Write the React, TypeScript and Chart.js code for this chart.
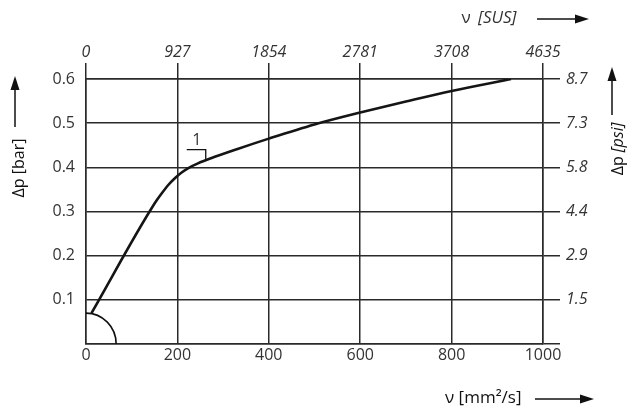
import React, { useEffect, useRef } from "react";
import { Chart, registerables } from "chart.js";

Chart.register(...registerables);

// Curve data: viscosity ν [mm²/s] vs pressure drop Δp [bar]
const NU_MM2S = [12, 150, 165, 180, 195, 210, 225, 245, 272, 330, 400, 500, 600, 700, 800, 930];
const DP_BAR = [0.07, 0.318, 0.34, 0.36, 0.376, 0.389, 0.399, 0.409, 0.42, 0.441, 0.465, 0.497, 0.524, 0.549, 0.573, 0.6];

// Axis tick labels
const MM2S_LABELS = ["0", "200", "400", "600", "800", "1000"];
const SUS_LABELS = ["0", "927", "1854", "2781", "3708", "4635"];
const BAR_LABELS = ["", "0.1", "0.2", "0.3", "0.4", "0.5", "0.6"];
const PSI_LABELS = ["", "1.5", "2.9", "4.4", "5.8", "7.3", "8.7"];

// Annotation "1" anchor (data coordinates) and corner arc radii (data units)
const MARK1 = { x: 262, yTop: 0.44, yBottom: 0.416, label: "1" };
const ARC_R = { x: 66, y: 0.07 };

const FONT = "'Open Sans', 'DejaVu Sans', sans-serif";
const TXT = "#333333";
const LINE = "#2a2a2a";

function arrow(ctx: CanvasRenderingContext2D, x1: number, y1: number, x2: number, y2: number) {
  const head = 14;
  const half = 4.5;
  const ang = Math.atan2(y2 - y1, x2 - x1);
  const bx = x2 - head * Math.cos(ang);
  const by = y2 - head * Math.sin(ang);
  ctx.beginPath();
  ctx.moveTo(x1, y1);
  ctx.lineTo(bx, by);
  ctx.strokeStyle = "#111";
  ctx.lineWidth = 1.5;
  ctx.stroke();
  ctx.beginPath();
  ctx.moveTo(x2, y2);
  ctx.lineTo(bx + half * Math.sin(ang), by - half * Math.cos(ang));
  ctx.lineTo(bx - half * Math.sin(ang), by + half * Math.cos(ang));
  ctx.closePath();
  ctx.fillStyle = "#111";
  ctx.fill();
}

const decor = {
  id: "decor",
  afterDatasetsDraw(chart: any) {
    const ctx: CanvasRenderingContext2D = chart.ctx;
    const xs = chart.scales.x;
    const ys = chart.scales.y;
    ctx.save();

    // quarter arc at origin
    const ox = xs.getPixelForValue(0);
    const oy = ys.getPixelForValue(0);
    const rx = xs.getPixelForValue(ARC_R.x) - ox;
    const ry = oy - ys.getPixelForValue(ARC_R.y);
    ctx.beginPath();
    ctx.ellipse(ox, oy, rx, ry, 0, -Math.PI / 2, 0);
    ctx.strokeStyle = "#111";
    ctx.lineWidth = 1.6;
    ctx.stroke();

    // annotation "1"
    const mx = xs.getPixelForValue(MARK1.x);
    const my1 = ys.getPixelForValue(MARK1.yTop);
    const my2 = ys.getPixelForValue(MARK1.yBottom);
    ctx.beginPath();
    ctx.moveTo(mx - 19, my1);
    ctx.lineTo(mx, my1);
    ctx.lineTo(mx, my2);
    ctx.lineWidth = 1.3;
    ctx.stroke();
    ctx.fillStyle = TXT;
    ctx.font = `16px ${FONT}`;
    ctx.textAlign = "center";
    ctx.textBaseline = "bottom";
    ctx.fillText(MARK1.label, mx - 9, my1 - 1);

    // top title
    ctx.textBaseline = "middle";
    ctx.textAlign = "center";
    ctx.font = `17px ${FONT}`;
    ctx.fillText("ν", 466, 18);
    ctx.textAlign = "left";
    ctx.font = `italic 17px ${FONT}`;
    ctx.fillText("[SUS]", 478, 18);
    arrow(ctx, 537, 19, 589, 19);

    // bottom title
    ctx.font = `17px ${FONT}`;
    ctx.fillText("ν [mm²/s]", 445, 398);
    arrow(ctx, 535, 399, 594, 399);

    // left title
    ctx.save();
    ctx.translate(19, 168);
    ctx.rotate(-Math.PI / 2);
    ctx.textAlign = "center";
    ctx.font = `16px ${FONT}`;
    ctx.fillText("Δp [bar]", 0, 0);
    ctx.restore();
    arrow(ctx, 15, 127, 15, 76);

    // right title
    ctx.save();
    ctx.translate(618, 149);
    ctx.rotate(-Math.PI / 2);
    const a = "Δp ";
    ctx.font = `italic 16px ${FONT}`;
    const bw = ctx.measureText("[psi]").width;
    ctx.font = `16px ${FONT}`;
    const aw = ctx.measureText(a).width;
    const start = -(aw + bw) / 2;
    ctx.textAlign = "left";
    ctx.fillText(a, start, 0);
    ctx.font = `italic 16px ${FONT}`;
    ctx.fillText("[psi]", start + aw, 0);
    ctx.restore();
    arrow(ctx, 612, 115, 612, 67);

    ctx.restore();
  },
};

export default function App() {
  const ref = useRef<HTMLCanvasElement | null>(null);

  useEffect(() => {
    if (!ref.current) return;
    const gridCommon = { color: LINE, lineWidth: 1.5 };
    const tickFont = { family: FONT, size: 16 };
    const tickFontIt = { family: FONT, size: 16, style: "italic" as const };
    const chart = new Chart(ref.current, {
      type: "line",
      data: {
        datasets: [
          {
            data: NU_MM2S.map((x, i) => ({ x, y: DP_BAR[i] })),
            borderColor: "#151515",
            borderWidth: 2.6,
            pointRadius: 0,
            cubicInterpolationMode: "monotone",
            xAxisID: "x",
            yAxisID: "y",
          },
        ],
      },
      options: {
        responsive: false,
        animation: false,
        layout: { padding: 0 },
        plugins: { legend: { display: false }, tooltip: { enabled: false } },
        scales: {
          x: {
            type: "linear",
            position: "bottom",
            min: 0,
            max: 1000,
            ticks: {
              stepSize: 200,
              color: TXT,
              font: tickFont,
              padding: 2,
              maxRotation: 0,
              callback: (_v: any, i: number) => MM2S_LABELS[i],
            },
            grid: { ...gridCommon, drawTicks: false },
            border: { color: LINE, width: 1.5 },
            afterFit: (s: any) => { s.height = 63; },
          },
          x2: {
            type: "linear",
            position: "top",
            min: 0,
            max: 1000,
            ticks: {
              stepSize: 200,
              color: TXT,
              font: tickFontIt,
              padding: 1,
              maxRotation: 0,
              callback: (_v: any, i: number) => SUS_LABELS[i],
            },
            grid: { ...gridCommon, drawOnChartArea: false, tickLength: 16 },
            border: { color: LINE, width: 1.5 },
            afterFit: (s: any) => { s.height = 79; },
          },
          y: {
            type: "linear",
            position: "left",
            min: 0,
            max: 0.6,
            ticks: {
              stepSize: 0.1,
              color: TXT,
              font: tickFont,
              padding: 11,
              callback: (_v: any, i: number) => BAR_LABELS[i],
            },
            grid: { ...gridCommon, drawTicks: false },
            border: { color: LINE, width: 1.5 },
            afterFit: (s: any) => { s.width = 86; },
          },
          y2: {
            type: "linear",
            position: "right",
            min: 0,
            max: 0.6,
            ticks: {
              stepSize: 0.1,
              color: TXT,
              font: tickFontIt,
              padding: 6,
              callback: (_v: any, i: number) => PSI_LABELS[i],
            },
            grid: { ...gridCommon, drawOnChartArea: false, tickLength: 17 },
            border: { color: LINE, width: 1.5 },
            afterFit: (s: any) => { s.width = 85; },
          },
        },
      },
      plugins: [decor],
    });
    return () => chart.destroy();
  }, []);

  return (
    <div style={{ position: "fixed", left: 0, top: 0, width: 628, height: 407, background: "#fff" }}>
      <canvas ref={ref} width={628} height={407} style={{ width: 628, height: 407 }} />
    </div>
  );
}
